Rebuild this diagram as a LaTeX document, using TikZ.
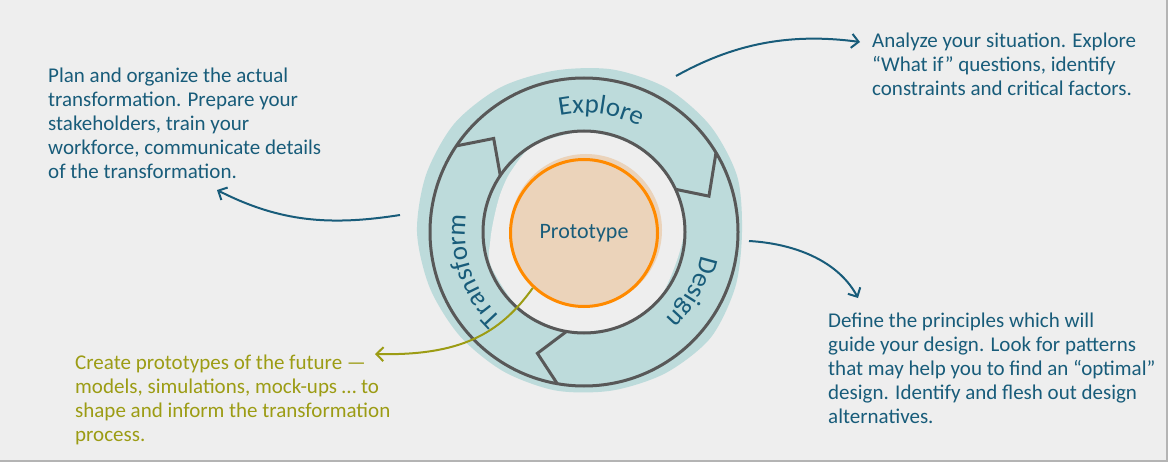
\documentclass[tikz,border=0pt]{standalone}
\usepackage{fontspec}
\setmainfont{Carlito}
\usepackage{tikz}
\usetikzlibrary{arrows.meta,positioning,calc,decorations.text}

\definecolor{bgcol}{HTML}{EEEEEE}
\definecolor{framecol}{HTML}{B4B4B4}
\definecolor{ringfill}{HTML}{BDDBDB}
\definecolor{ringline}{HTML}{585858}
\definecolor{inkblue}{HTML}{185C7A}
\definecolor{inkolive}{HTML}{9C9C14}
\definecolor{protoline}{HTML}{FF8A00}
\definecolor{protofill}{HTML}{EBD3BA}

\newcommand\ringsize{\fontsize{27}{27}\selectfont\color{inkblue}}

\tikzset{
  note/.style={anchor=base west, align=left, inner sep=0pt, font=\fontsize{21}{24}\selectfont, text=inkblue},
  pointer/.style={-{Straight Barb[length=7pt,width=14pt]}, line width=2pt, inkblue},
  ringstroke/.style={ringline, line width=3pt},
  ringlabel/.style={decorate, decoration={text along path, text align=center}},
}

\begin{document}
\begin{tikzpicture}[x=1pt,y=1pt]
\useasboundingbox (0,0) rectangle (1170,464);
% Page
\fill[white] (0,0) rectangle (1170,464);
\fill[bgcol] (0,3) rectangle (1167,464);
\draw[framecol, line width=2pt] (1167,464) -- (1167,3) -- (0,3);
% Cycle
\begin{scope}[shift={(584,232)}]
  % teal wash behind the ring
  \fill[ringfill] plot[smooth cycle] coordinates {(0:158) (20:163) (40:165) (60:166) (80:165) (100:164) (120:167) (140:169) (160:168) (180:167) (200:164) (220:162) (240:161) (260:161) (280:161) (300:163) (320:165) (340:161)};
  \fill[bgcol] plot[smooth cycle] coordinates {(0:100) (30:100) (60:100) (90:100) (120:100) (140:95) (155:92) (170:91) (185:94) (200:99) (230:100) (260:100) (290:100) (320:100)};
  % rings
  \draw[ringstroke] (0,0) circle (154);
  \draw[ringstroke] (0,0) circle (101);
  % arrow notches
  \foreach \a/\t/\b in {146/134/146, 31/16/25, 260/249/260}
    \draw[ringstroke, line join=miter] (\a:154) -- (\t:130) -- (\b:101);
  % segment names
  \path[ringlabel, decoration={text={|\ringsize|Explore}}] (122:119) arc (122:42:119);
  \path[ringlabel, decoration={text={|\ringsize|Design}}] (11:119) arc (11:-69:119);
  \path[ringlabel, decoration={text={|\ringsize|Transform}}] (239:119) arc (239:159:119);
  % prototype
  \fill[protofill] (2,2) circle (76);
  \node[circle, draw=protoline, line width=3pt, minimum size=147pt, inner sep=0pt,
        font=\fontsize{22}{22}\selectfont, text=inkblue] (proto) at (0,-1) {Prototype};
\end{scope}
% Notes (base = last line)
\node[note] (plannote) at (48,285) {Plan and organize the actual\\transformation. Prepare your\\stakeholders, train your\\workforce, communicate details\\of the transformation.};
\node[note] (analyzenote) at (872,368) {Analyze your situation. Explore\\“What if” questions, identify\\constraints and critical factors.};
\node[note] (definenote) at (828,41) {Define the principles which will\\guide your design. Look for patterns\\that may help you to find an “optimal”\\design. Identify and flesh out design\\alternatives.};
\node[note, text=inkolive] (createnote) at (75,23) {Create prototypes of the future —\\models, simulations, mock-ups … to\\shape and inform the transformation\\process.};
% Pointers
\coordinate (exfrom) at (676,388);
\coordinate (exto) at (860,422);
\coordinate (defrom) at (749,223);
\coordinate (deto) at (858,166);
\coordinate (trfrom) at (400,249);
\coordinate (trto) at (217,274);
\coordinate (prto) at (375,110);
\draw[pointer] (exfrom) .. controls (730,418) and (785,432) .. (exto);
\draw[pointer] (defrom) .. controls (800,220) and (840,200) .. (deto);
\draw[pointer] (trfrom) .. controls (330,238) and (280,242) .. (trto);
\draw[pointer, inkolive] (proto.227) .. controls (500,130) and (460,108) .. (prto);
\end{tikzpicture}
\end{document}
